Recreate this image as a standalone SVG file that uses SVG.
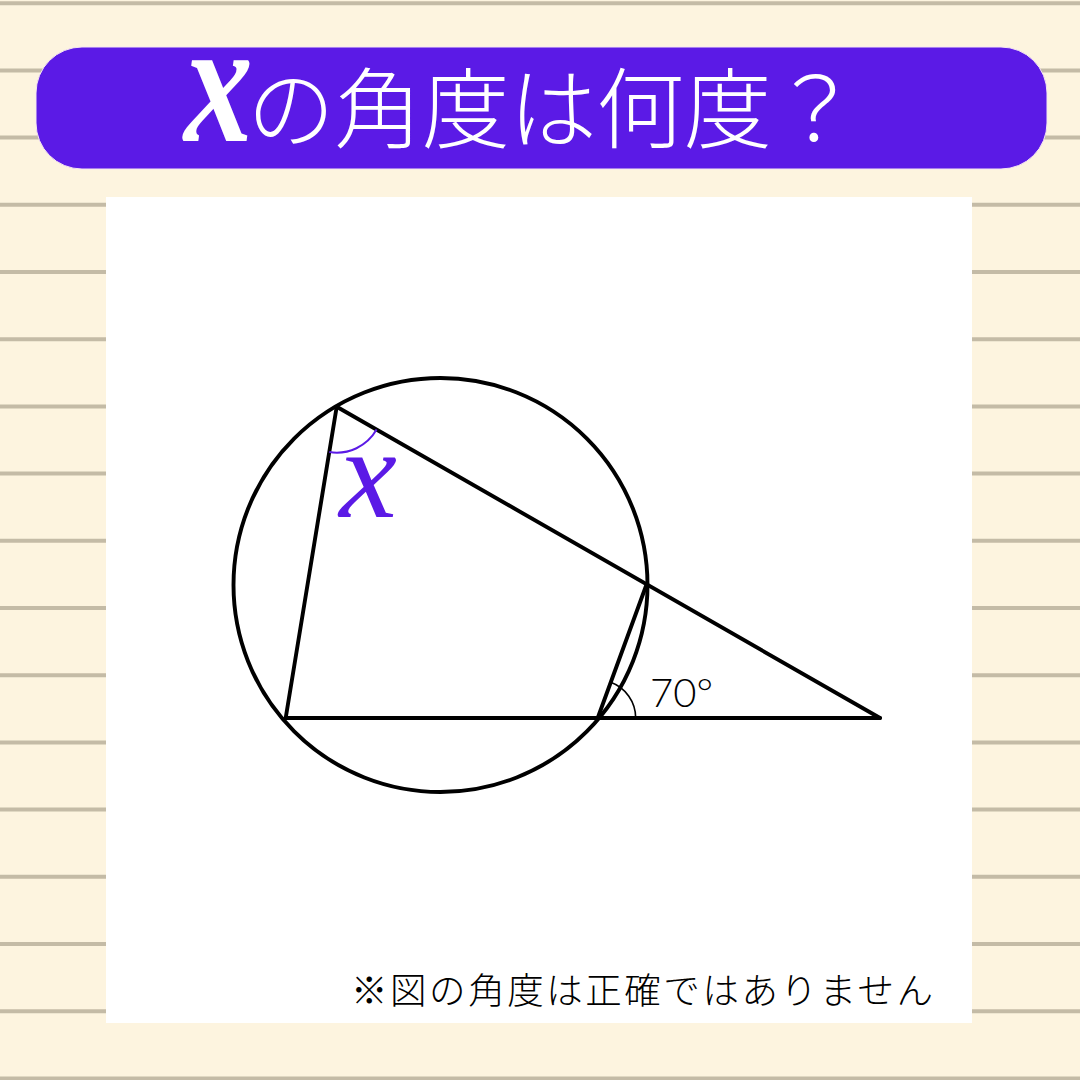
<svg xmlns="http://www.w3.org/2000/svg" width="1080" height="1080" viewBox="0 0 1080 1080">
<style>
.rule{stroke:#C4BBA6;stroke-width:4}
.geo{fill:none;stroke:#000;stroke-width:3.9;stroke-linecap:round;stroke-linejoin:round}
.thin{fill:none;stroke:#000;stroke-width:1.6}
.mark{fill:none;stroke:#5B1AE6;stroke-width:2}
.jp{font-family:"Noto Sans CJK JP","Noto Sans CJK SC",sans-serif;font-weight:300}
.var{font-family:"Liberation Serif","DejaVu Serif",serif;font-style:italic}
</style>
<rect width="1080" height="1080" fill="#FDF4DF"/>
<g id="rules">
<line class="rule" x1="0" y1="3.2" x2="1080" y2="3.2"/>
<line class="rule" x1="0" y1="70.4" x2="1080" y2="70.4"/>
<line class="rule" x1="0" y1="137.6" x2="1080" y2="137.6"/>
<line class="rule" x1="0" y1="204.8" x2="1080" y2="204.8"/>
<line class="rule" x1="0" y1="272" x2="1080" y2="272"/>
<line class="rule" x1="0" y1="339.2" x2="1080" y2="339.2"/>
<line class="rule" x1="0" y1="406.4" x2="1080" y2="406.4"/>
<line class="rule" x1="0" y1="473.6" x2="1080" y2="473.6"/>
<line class="rule" x1="0" y1="540.8" x2="1080" y2="540.8"/>
<line class="rule" x1="0" y1="608" x2="1080" y2="608"/>
<line class="rule" x1="0" y1="675.2" x2="1080" y2="675.2"/>
<line class="rule" x1="0" y1="742.4" x2="1080" y2="742.4"/>
<line class="rule" x1="0" y1="809.6" x2="1080" y2="809.6"/>
<line class="rule" x1="0" y1="876.8" x2="1080" y2="876.8"/>
<line class="rule" x1="0" y1="944" x2="1080" y2="944"/>
<line class="rule" x1="0" y1="1011.2" x2="1080" y2="1011.2"/>
<line class="rule" x1="0" y1="1078.4" x2="1080" y2="1078.4"/>
</g>
<g id="title">
<rect x="36" y="47" width="1011" height="122" rx="46" fill="#5B1AE6" stroke="#F6E6F2" stroke-width="1"/>
<text class="var" transform="translate(184,141) scale(1.1,1.4)" font-size="125" font-weight="bold" fill="#FFFFFF">x</text>
<text class="jp" x="247" y="141" font-size="88" fill="#FFFFFF" textLength="612" lengthAdjust="spacing">の角度は何度？</text>
</g>
<rect id="panel" x="106" y="197" width="866" height="826" fill="#FFFFFF"/>
<g id="circle">
<circle class="geo" cx="440.5" cy="585" r="207"/>
</g>
<g id="connectors">
<line class="geo" x1="336.7" y1="406.7" x2="285.7" y2="718"/>
<line class="geo" x1="285.7" y1="718" x2="880" y2="718"/>
<line class="geo" x1="336.7" y1="406.7" x2="880" y2="718"/>
<line class="geo" x1="597.7" y1="718" x2="646.7" y2="584"/>
</g>
<g id="angle-x">
<path class="mark" d="M329.3,452.1 A46,46 0 0 0 376.6,429.6"/>
<text class="var" x="368" y="517" font-size="130" fill="#5B1AE6" text-anchor="middle">x</text>
</g>
<g id="angle-70">
<path class="thin" d="M635.7,718 A38,38 0 0 0 610.7,682.3"/>
<text x="650" y="707" font-family="Lato, 'Open Sans', sans-serif" font-weight="300" font-size="40" fill="#000">70°</text>
</g>
<g id="note">
<text class="jp" x="351" y="1004" font-size="36.5" fill="#000" textLength="582" lengthAdjust="spacing">※図の角度は正確ではありません</text>
</g>
</svg>
